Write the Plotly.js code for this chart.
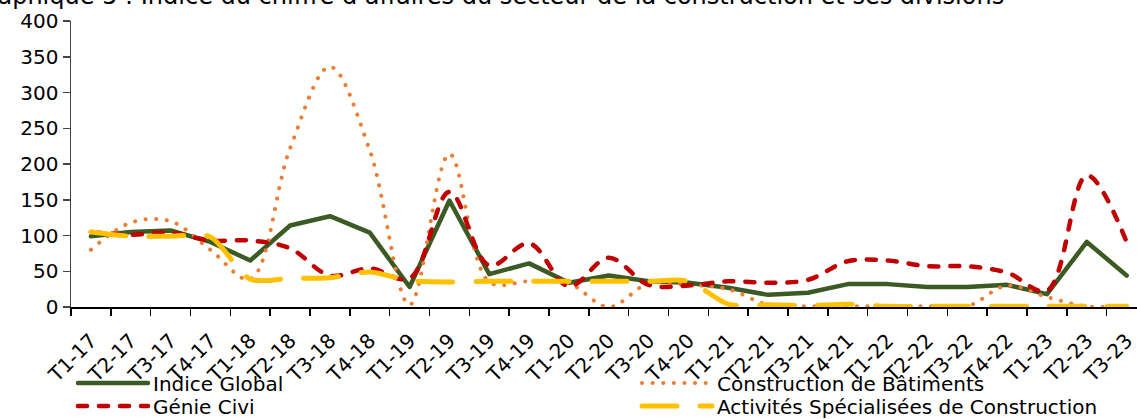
<!DOCTYPE html>
<html>
<head>
<meta charset="utf-8">
<script src="https://cdn.plot.ly/plotly-3.0.1.min.js"></script>
<style>
  html, body { margin: 0; padding: 0; background: #fff; }
  #chart { width: 1137px; height: 419px; }
  .js-line { stroke-linecap: round !important; stroke-linejoin: round !important; }
</style>
</head>
<body>
<div id="chart"></div>
<script>
const categories = ['T1-17','T2-17','T3-17','T4-17','T1-18','T2-18','T3-18','T4-18','T1-19','T2-19','T3-19','T4-19','T1-20','T2-20','T3-20','T4-20','T1-21','T2-21','T3-21','T4-21','T1-22','T2-22','T3-22','T4-22','T1-23','T2-23','T3-23'];
const indiceGlobal = [99,105,107,91,65,114,127,104,28,149,46,61,34,44,36,34,27,17,20,32,32,28,28,31,18,91,44];
const constructionBatiments = [80,118,120,80,39,222,336,219,3,214,35,36,33,0,33,31,25,3,1,1,1,1,1,30,14,1,1];
const genieCivil = [105,101,104,93,93,82,44,54,40,161,58,89,29,69,31,30,36,34,38,64,65,57,57,48,23,184,91];
const activitesSpecialisees = [105,99,99,98,39,40,41,49,37,35,36,36,36,36,36,36,4,3,2,4,1,1,1,1,1,1,1];

const seriesNames = ['Indice Global','Construction de Bâtiments','Génie Civi','Activités Spécialisées de Construction'];
const titleText = 'Graphique 5 : Indice du chiffre d’affaires du secteur de la construction et ses divisions';

const FONT = 'DejaVu Sans, Verdana, sans-serif';
const W = 1137, H = 419;

function legendBox(xPx, yPx) {
  return {
    xref: 'container', yref: 'container', x: xPx / W, y: 1 - yPx / H,
    xanchor: 'left', yanchor: 'middle', orientation: 'v', itemwidth: 70,
    bgcolor: 'rgba(0,0,0,0)', borderwidth: 0, tracegroupgap: 0,
    font: {family: FONT, size: 20, color: '#000'}
  };
}

const traces = [
  {x: categories, y: indiceGlobal, name: seriesNames[0], type: 'scatter', mode: 'lines',
   line: {color: '#3B5A24', width: 4.5}, legend: 'legend'},
  {x: categories, y: constructionBatiments, name: seriesNames[1], type: 'scatter', mode: 'lines',
   line: {color: '#ED7D31', width: 4, dash: '0.1px,10.5px', shape: 'spline', smoothing: 1}, legend: 'legend2'},
  {x: categories, y: genieCivil, name: seriesNames[2], type: 'scatter', mode: 'lines',
   line: {color: '#C00000', width: 4.5, dash: '9px,12px', shape: 'spline', smoothing: 1}, legend: 'legend3'},
  {x: categories, y: activitesSpecialisees, name: seriesNames[3], type: 'scatter', mode: 'lines',
   line: {color: '#FFC000', width: 5, dash: '35px,23px', shape: 'spline', smoothing: 0.8}, legend: 'legend4'}
];

const layout = {
  width: W, height: H,
  margin: {l: 70.5, r: 0, t: 21, b: 112, pad: 0, autoexpand: false},
  paper_bgcolor: '#fff', plot_bgcolor: '#fff',
  font: {family: FONT, size: 20, color: '#000'},
  showlegend: true,
  xaxis: {
    type: 'category', range: [-0.5, 26.26], tickangle: -45, automargin: false,
    ticks: 'outside', tickson: 'boundaries', ticklen: 7, tickwidth: 1.5, tickcolor: '#000',
    ticklabelstandoff: 12,
    showline: true, linecolor: '#000', linewidth: 2, showgrid: false, zeroline: false,
    tickfont: {family: FONT, size: 20, color: '#000'}, fixedrange: true
  },
  yaxis: {
    range: [0, 400], dtick: 50, tick0: 0, automargin: false,
    ticks: 'outside', ticklen: 7, tickwidth: 1.5, tickcolor: '#444',
    showline: true, linecolor: '#444', linewidth: 1.5, showgrid: false, zeroline: false,
    tickfont: {family: FONT, size: 20, color: '#000'}, fixedrange: true
  },
  legend: legendBox(73, 383),
  legend2: legendBox(637, 383),
  legend3: legendBox(73, 406),
  legend4: legendBox(637, 406),
  annotations: [{
    text: titleText, xref: 'paper', yref: 'paper',
    x: (1006 - 70.5) / 1066.5, y: 1 + 9 / 286, xanchor: 'right', yanchor: 'bottom',
    showarrow: false, font: {family: FONT, size: 24, color: '#000'}
  }]
};

Plotly.newPlot('chart', traces, layout, {staticPlot: true, displayModeBar: false});
</script>
</body>
</html>
